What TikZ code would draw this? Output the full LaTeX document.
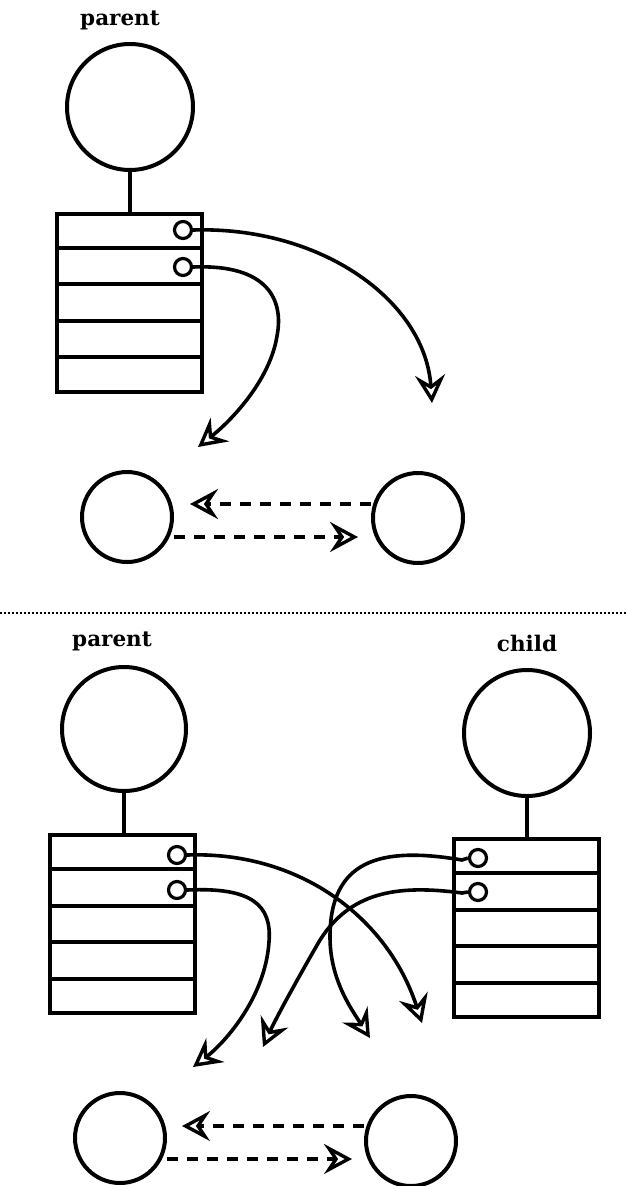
\documentclass[tikz,border=0pt]{standalone}
\usepackage{fontspec}
\setmainfont{DejaVu Serif}
\usetikzlibrary{arrows.meta,calc}
\begin{document}
\begin{tikzpicture}[x=1pt,y=-1pt,
  proc/.style={circle,draw,line width=4pt,inner sep=0pt},
  slot/.style={circle,draw,line width=3.2pt,inner sep=0pt,minimum size=17pt},
  tbl/.style={rectangle,draw,line width=4pt,inner sep=0pt,minimum width=145pt,minimum height=178pt},
  lbl/.style={font=\fontsize{21.5}{26}\selectfont\bfseries},
  stem/.style={line width=3.2pt},
  hd/.style={-{Stealth[open,length=28pt,width=30pt,inset=10pt,line width=3.4pt]}},
  ptr/.style={hd,line width=3.6pt},
  msg/.style={hd,line width=3.6pt,dash pattern=on 11pt off 9pt},
  sep/.style={line width=2.4pt,dash pattern=on 1.8pt off 2.2pt}
]
\useasboundingbox (0,0) rectangle (626,1186);

% ---------- top part ----------
\node[lbl] (lt) at (120,20) {parent};
\node[proc,minimum size=126pt] (pt) at (130,107) {};
\node[tbl] (bt) at (129,302.5) {};
\foreach \k in {1,2,3,4}
  \draw[line width=4pt] ($(bt.north west)!\k/5!(bt.south west)$) -- ($(bt.north east)!\k/5!(bt.south east)$);
\draw[stem] (pt.south) -- (bt.north -| pt.south);
\node[slot] (st1) at (183,230) {};
\node[slot] (st2) at (183,267) {};

\node[proc,minimum size=90pt] (ct1) at (127,517) {};
\node[proc,minimum size=90pt] (ct2) at (418,518) {};

\coordinate (at1) at (432,403);
\coordinate (at2) at (198,447);
\draw[ptr] (st1.east) .. controls (320,226) and (425,300) .. (at1);
\draw[ptr] (st2.east) .. controls (268,264) and (284,300) .. (277,336)
                      .. controls (270,380) and (232,420) .. (at2);

\coordinate (dt1) at (190,504);
\coordinate (dt2) at (358,537);
\draw[msg] (ct2.west |- dt1) -- (dt1);
\draw[msg] (ct1.east |- dt2) -- (dt2);

% ---------- separator ----------
\coordinate (s0) at (0,613);
\coordinate (s1) at (626,613);
\draw[sep] (s0) -- (s1);

% ---------- bottom part ----------
\node[lbl] (lp) at (112,641) {parent};
\node[lbl] (lc) at (527,643) {child};
\node[proc,minimum size=124pt] (pp) at (124,729) {};
\node[proc,minimum size=126pt] (pc) at (527,733) {};
\node[tbl] (bp) at (122.5,924) {};
\node[tbl] (bc) at (526,928) {};
\foreach \b in {bp,bc}
  \foreach \k in {1,2,3,4}
    \draw[line width=4pt] ($(\b.north west)!\k/5!(\b.south west)$) -- ($(\b.north east)!\k/5!(\b.south east)$);
\draw[stem] (pp.south) -- (bp.north -| pp.south);
\draw[stem] (pc.south) -- (bc.north -| pc.south);
\node[slot] (sp1) at (177,855) {};
\node[slot] (sp2) at (177,890) {};
\node[slot] (sc1) at (478,858) {};
\node[slot] (sc2) at (478,892) {};

\node[proc,minimum size=90pt] (cb1) at (120,1138) {};
\node[proc,minimum size=90pt] (cb2) at (411,1141) {};

\coordinate (ap1) at (422,1023);
\coordinate (ap2) at (193,1067);
\coordinate (ac1) at (370,1038);
\coordinate (ac2) at (263,1047);
\draw[ptr] (sp1.east) .. controls (300,851) and (388,918) .. (ap1);
\draw[ptr] (sp2.east) .. controls (252,887) and (272,905) .. (269,942)
                      .. controls (265,1000) and (222,1045) .. (ap2);
\draw[ptr] (sc1.west) -- (462,860) .. controls (380,846) and (330,860) .. (330,937)
                      .. controls (330,980) and (352,1010) .. (ac1);
\draw[ptr] (sc2.west) -- (462,893) .. controls (395,884) and (350,893) .. (320,940)
                      .. controls (298,978) and (276,1018) .. (ac2);

\coordinate (db1) at (182,1126);
\coordinate (db2) at (352,1159);
\draw[msg] (cb2.west |- db1) -- (db1);
\draw[msg] (cb1.east |- db2) -- (db2);
\end{tikzpicture}
\end{document}
